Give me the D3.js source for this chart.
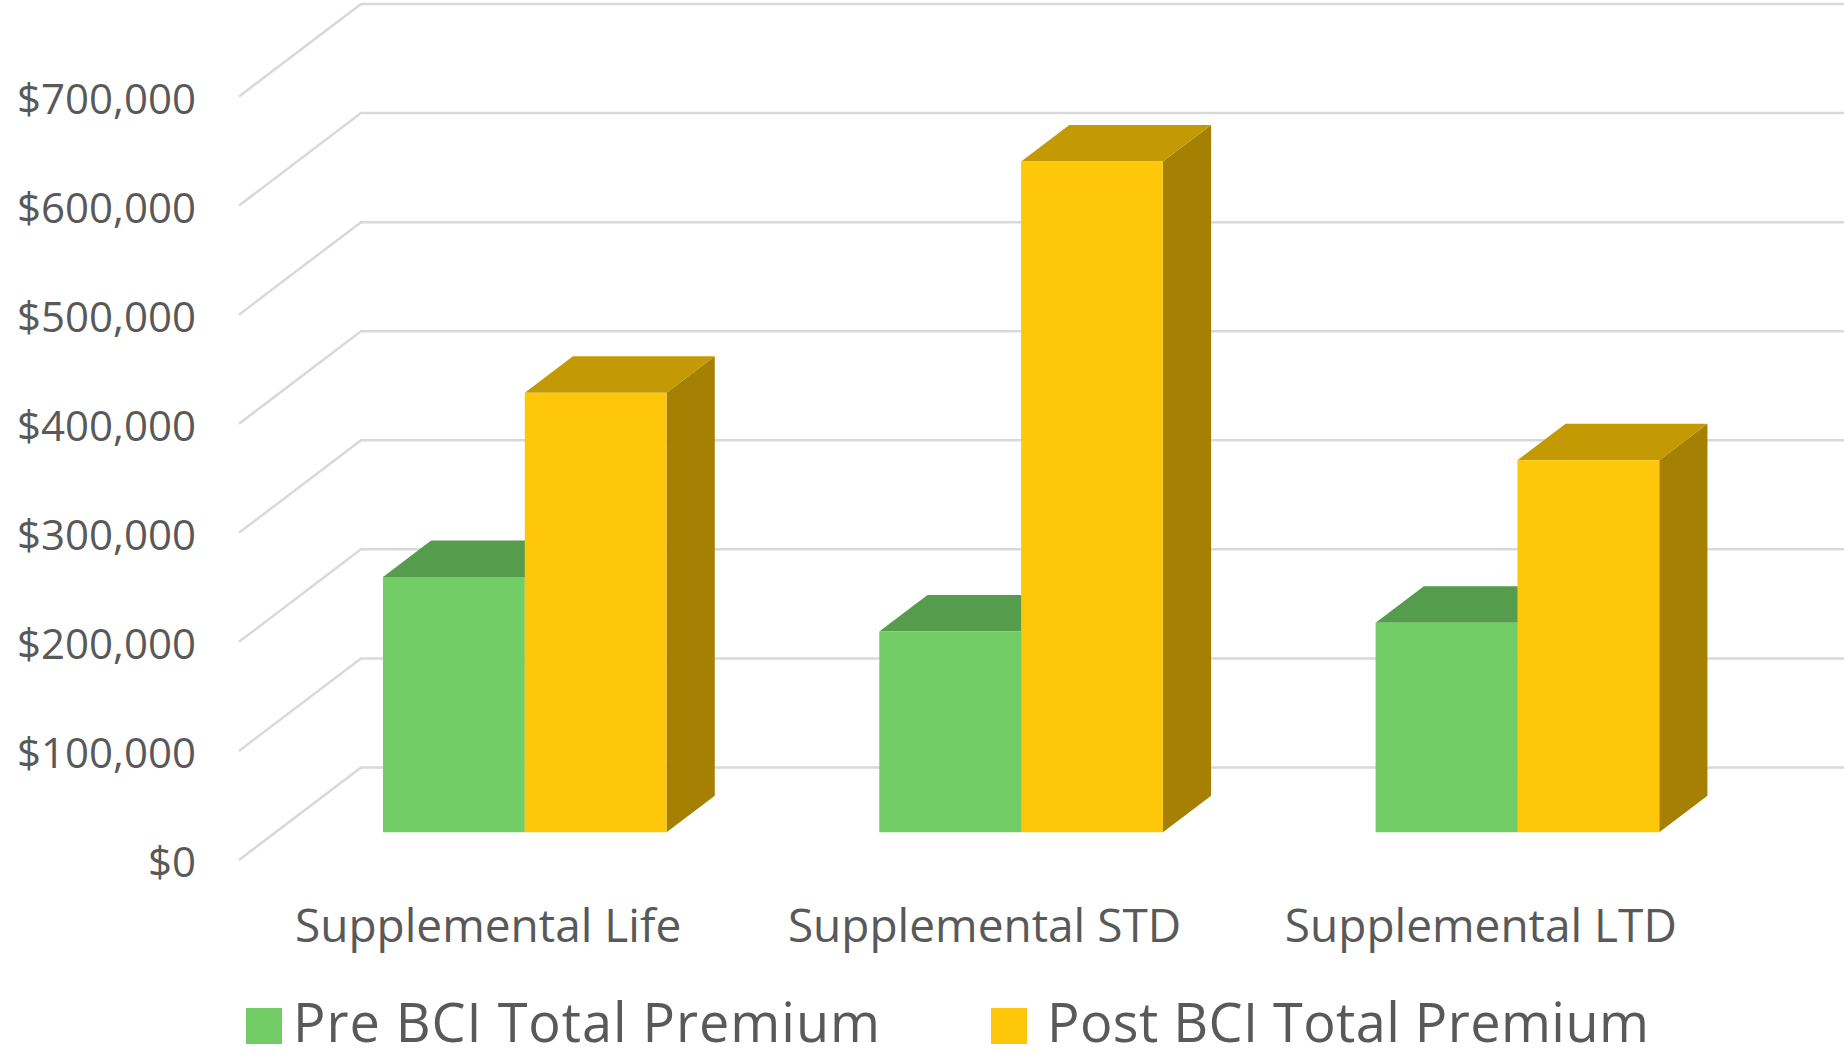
<!DOCTYPE html>
<html lang="en">
<head>
<meta charset="utf-8">
<title>Pre vs Post BCI Total Premium</title>
<script src="https://d3js.org/d3.v7.min.js"></script>
<style>
  body { margin: 0; background: #fff; }
  text { font-family: "Open Sans", sans-serif; fill: #595959; }
</style>
</head>
<body>
<script>
// data
var categories = ["Supplemental Life", "Supplemental STD", "Supplemental LTD"];
var seriesNames = ["Pre BCI Total Premium", "Post BCI Total Premium"];
var preValues = [234000, 184000, 192000];
var postValues = [403000, 615000, 341000];
var yTicks = [0, 100000, 200000, 300000, 400000, 500000, 600000, 700000];

var width = 1844, height = 1057;

// oblique depth: full depth of the plot box
var DX = 122, DY = 92.5;
var zFront = 0.3, zBack = 0.695;

var colors = {
  front: ["#72cd67", "#fec70a"],
  top: ["#559c4d", "#c39a04"],
  side: ["#468040", "#a58002"]
};

var svg = d3.select("body").append("svg")
  .attr("width", width)
  .attr("height", height);

// front-plane scales
var x0 = d3.scaleBand()
  .domain(categories)
  .range([240, 1729])
  .paddingInner(3 / 7)
  .paddingOuter(1.5 / 7);

var x1 = d3.scaleBand()
  .domain(seriesNames)
  .range([0, x0.bandwidth()]);

var y = d3.scaleLinear()
  .domain([0, 700000])
  .range([860, 96.5]);

function proj(x, yy, z) {
  return [x + z * DX, yy - z * DY];
}

//Gridlines: side wall + back wall
var grid = svg.append("g")
  .attr("stroke", "#d9d9d9")
  .attr("stroke-width", 2.5)
  .attr("fill", "none");

grid.selectAll("path")
  .data(yTicks)
  .enter()
  .append("path")
  .attr("d", function (t) {
    var a = proj(239, y(t), 0), b = proj(239, y(t), 1);
    return "M" + a + "L" + b + "L" + (width + 10) + "," + b[1];
  });

//Y axis labels
var yAxis = svg.append("g")
  .attr("transform", "translate(196,0)")
  .call(d3.axisLeft(y).tickValues(yTicks).tickFormat(d3.format("$,")).tickSize(0).tickPadding(0));
yAxis.select(".domain").remove();
yAxis.selectAll("text")
  .attr("fill", "#595959")
  .attr("dy", "0.4em")
  .style("font-family", "'Open Sans', sans-serif")
  .style("font-size", "42px");

//Bars
var bars = [];
categories.forEach(function (c, i) {
  bars.push({ cat: c, s: 0, value: preValues[i] });
  bars.push({ cat: c, s: 1, value: postValues[i] });
});

function poly(pts) {
  return "M" + pts.join("L") + "Z";
}

var barG = svg.selectAll(".bar")
  .data(bars)
  .enter()
  .append("g")
  .attr("class", "bar");

barG.each(function (d) {
  var g = d3.select(this);
  var xl = x0(d.cat) + x1(seriesNames[d.s]);
  var xr = xl + x1.bandwidth();
  var yb = y(0), yt = y(d.value);

  // right side face
  g.append("path")
    .attr("d", poly([proj(xr, yb, zFront), proj(xr, yb, zBack), proj(xr, yt, zBack), proj(xr, yt, zFront)]))
    .attr("fill", colors.side[d.s]);
  // top face
  g.append("path")
    .attr("d", poly([proj(xl, yt, zFront), proj(xl, yt, zBack), proj(xr, yt, zBack), proj(xr, yt, zFront)]))
    .attr("fill", colors.top[d.s]);
  // front face
  g.append("path")
    .attr("d", poly([proj(xl, yb, zFront), proj(xl, yt, zFront), proj(xr, yt, zFront), proj(xr, yb, zFront)]))
    .attr("fill", colors.front[d.s]);
});

//Category labels
svg.selectAll(".cat")
  .data(categories)
  .enter()
  .append("text")
  .attr("class", "cat")
  .attr("x", function (d) { return x0(d) + x0.bandwidth() / 2; })
  .attr("y", 942)
  .attr("text-anchor", "middle")
  .style("font-size", "46px")
  .text(function (d) { return d; });

//Legend
var legendX = [246, 991];
var legendTextX = [47, 56];
var legendW = [587, 602];
var legend = svg.selectAll(".legend")
  .data(seriesNames)
  .enter()
  .append("g")
  .attr("class", "legend")
  .attr("transform", function (d, i) { return "translate(" + legendX[i] + ",1008)"; });

legend.append("rect")
  .attr("width", 36)
  .attr("height", 36)
  .attr("fill", function (d, i) { return colors.front[i]; });

legend.append("text")
  .attr("x", function (d, i) { return legendTextX[i]; })
  .attr("y", 34)
  .attr("textLength", function (d, i) { return legendW[i]; })
  .attr("lengthAdjust", "spacing")
  .style("font-size", "54px")
  .text(function (d) { return d; });
</script>
</body>
</html>
